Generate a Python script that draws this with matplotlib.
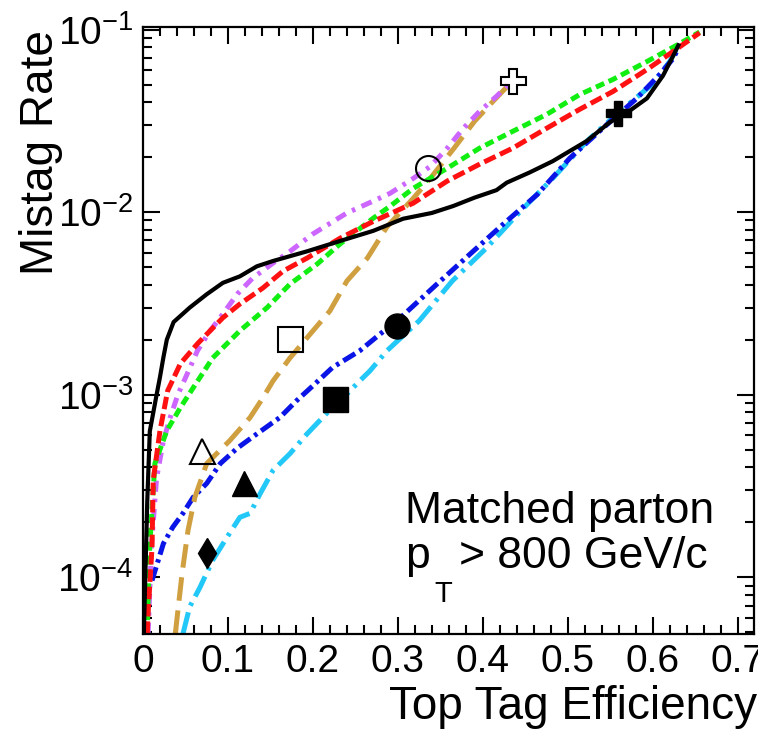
import matplotlib.pyplot as plt
from matplotlib.ticker import FixedLocator, MultipleLocator, LogLocator, NullFormatter

plt.rcParams['font.family'] = ['Liberation Sans', 'DejaVu Sans']
plt.rcParams['mathtext.fontset'] = 'custom'
plt.rcParams['mathtext.rm'] = 'Liberation Sans'
plt.rcParams['mathtext.it'] = 'Liberation Sans:italic'
plt.rcParams['mathtext.bf'] = 'Liberation Sans:bold'
plt.rcParams['lines.scale_dashes'] = False

# courbes (efficacite, taux de mistag)
black_x = [0.001, 0.002, 0.005, 0.008, 0.016, 0.020, 0.024, 0.028, 0.036, 0.055, 0.075, 0.094,
           0.114, 0.134, 0.153, 0.193, 0.232, 0.271, 0.306, 0.340, 0.365, 0.390, 0.416, 0.428,
           0.455, 0.482, 0.522, 0.549, 0.573, 0.593, 0.612, 0.624, 0.630]
black_y = [4.9e-5, 7.5e-5, 2.6e-4, 6.3e-4, 1.0e-3, 1.25e-3, 1.6e-3, 2.0e-3, 2.5e-3, 3.0e-3,
           3.55e-3, 4.1e-3, 4.45e-3, 5.05e-3, 5.4e-3, 6.1e-3, 6.95e-3, 7.9e-3, 9.2e-3, 9.9e-3,
           1.08e-2, 1.2e-2, 1.32e-2, 1.45e-2, 1.65e-2, 1.9e-2, 2.45e-2, 3.1e-2, 3.6e-2, 4.2e-2,
           5.6e-2, 7.2e-2, 8.2e-2]

red_x = [0.005, 0.006, 0.0106, 0.012, 0.020, 0.029, 0.044, 0.064, 0.094, 0.114, 0.141, 0.165,
         0.193, 0.232, 0.271, 0.318, 0.358, 0.396, 0.435, 0.475, 0.514, 0.553, 0.593, 0.624, 0.655]
red_y = [4.9e-5, 6.4e-5, 1.46e-4, 3.4e-4, 6.35e-4, 1.05e-3, 1.48e-3, 1.9e-3, 2.64e-3, 3.14e-3,
         3.84e-3, 4.76e-3, 5.6e-3, 7.2e-3, 8.9e-3, 1.12e-2, 1.48e-2, 1.83e-2, 2.24e-2, 2.88e-2,
         3.66e-2, 4.58e-2, 6.04e-2, 7.6e-2, 9.6e-2]

green_x = [0.003, 0.005, 0.008, 0.014, 0.028, 0.044, 0.059, 0.082, 0.114, 0.146, 0.173, 0.205,
           0.232, 0.271, 0.291, 0.318, 0.358, 0.396, 0.435, 0.475, 0.514, 0.553, 0.593, 0.632, 0.655]
green_y = [4.9e-5, 5.4e-5, 1.5e-4, 4.2e-4, 6.35e-4, 8.5e-4, 1.09e-3, 1.59e-3, 2.24e-3, 3.0e-3,
           4.04e-3, 5.2e-3, 6.7e-3, 9.27e-3, 1.08e-2, 1.35e-2, 1.74e-2, 2.24e-2, 2.77e-2, 3.43e-2,
           4.41e-2, 5.33e-2, 6.68e-2, 8.4e-2, 9.7e-2]

violet_x = [0.006, 0.010, 0.016, 0.024, 0.032, 0.041, 0.052, 0.064, 0.079, 0.094, 0.111, 0.129,
            0.153, 0.173, 0.200, 0.240, 0.271, 0.291, 0.318, 0.338, 0.358, 0.377, 0.396, 0.416, 0.434]
violet_y = [4.9e-5, 1.5e-4, 3.5e-4, 5.6e-4, 7.5e-4, 1.0e-3, 1.3e-3, 1.74e-3, 2.24e-3, 2.77e-3,
            3.56e-3, 4.35e-3, 5.26e-3, 6.1e-3, 7.6e-3, 9.9e-3, 1.15e-2, 1.27e-2, 1.53e-2, 1.78e-2,
            2.24e-2, 2.88e-2, 3.56e-2, 4.31e-2, 5.2e-2]

gold_x = [0.038, 0.046, 0.053, 0.061, 0.075, 0.102, 0.126, 0.141, 0.153, 0.173, 0.193, 0.220,
          0.240, 0.264, 0.287, 0.318, 0.338, 0.366, 0.390, 0.412, 0.429]
gold_y = [4.9e-5, 1.05e-4, 1.81e-4, 2.74e-4, 4.2e-4, 5.6e-4, 7.5e-4, 9.6e-4, 1.19e-3, 1.59e-3,
          2.05e-3, 2.88e-3, 4.2e-3, 5.6e-3, 8.3e-3, 1.19e-2, 1.53e-2, 2.24e-2, 3.14e-2, 4.05e-2, 4.9e-2]

blue_x = [0.0106, 0.024, 0.035, 0.047, 0.059, 0.075, 0.091, 0.111, 0.134, 0.161, 0.181, 0.200,
          0.223, 0.255, 0.279, 0.299, 0.346, 0.385, 0.424, 0.464, 0.502, 0.541, 0.581, 0.608,
          0.624, 0.632]
blue_y = [9.6e-5, 1.53e-4, 1.88e-4, 2.24e-4, 2.74e-4, 3.27e-4, 4.2e-4, 5.1e-4, 6.1e-4, 7.5e-4,
          9.3e-4, 1.12e-3, 1.41e-3, 1.74e-3, 2.15e-3, 2.54e-3, 4.04e-3, 5.9e-3, 8.6e-3, 1.25e-2,
          1.97e-2, 2.88e-2, 4.2e-2, 5.67e-2, 6.95e-2, 8.3e-2]

cyan_x = [0.047, 0.055, 0.067, 0.082, 0.099, 0.114, 0.126, 0.138, 0.153, 0.173, 0.193, 0.216,
          0.240, 0.255, 0.267, 0.287, 0.325, 0.364, 0.404, 0.444, 0.482, 0.522, 0.561, 0.599,
          0.620, 0.628]
cyan_y = [4.9e-5, 6.9e-5, 8.8e-5, 1.24e-4, 1.66e-4, 2.13e-4, 2.24e-4, 2.88e-4, 3.85e-4, 4.76e-4,
          6.1e-4, 7.9e-4, 1.01e-3, 1.19e-3, 1.35e-3, 1.74e-3, 2.54e-3, 4.2e-3, 6.35e-3, 1.01e-2,
          1.53e-2, 2.44e-2, 3.56e-2, 5.0e-2, 6.7e-2, 7.9e-2]

# points de fonctionnement (marqueurs)
open_pts = [('P', 0.435, 0.0526), ('o', 0.335, 0.0174), ('s', 0.173, 2.02e-3), ('^', 0.069, 4.94e-4)]
full_pts = [('P', 0.559, 0.0347), ('o', 0.299, 2.38e-3), ('s', 0.226, 9.5e-4), ('^', 0.119, 3.27e-4),
            ('d', 0.075, 1.35e-4)]

xticks = [0, 0.1, 0.2, 0.3, 0.4, 0.5, 0.6, 0.7]
xtick_labels = ['0', '0.1', '0.2', '0.3', '0.4', '0.5', '0.6', '0.7']
yticks = [1e-4, 1e-3, 1e-2, 1e-1]
ytick_labels = ['$10^{-4}$', '$10^{-3}$', '$10^{-2}$', '$10^{-1}$']

fig = plt.figure(figsize=(7.58, 7.32), dpi=100)
ax = fig.add_axes([143 / 758, 1 - 634 / 732, 611 / 758, 607 / 732])
ax.set_yscale('log')

ax.plot(cyan_x, cyan_y, color='#22c8f8', lw=3.6, dashes=(16, 5, 2.5, 5))
ax.plot(blue_x, blue_y, color='#0a14e6', lw=3.6, dashes=(10, 3.5, 2.5, 3.5))
ax.plot(gold_x, gold_y, color='#d0a040', lw=3.6, dashes=(17, 7))
ax.plot(violet_x, violet_y, color='#cc66ff', lw=3.6, dashes=(8, 5, 2.5, 5))
ax.plot(green_x, green_y, color='#11ee11', lw=3.6, dashes=(6.5, 3.5))
ax.plot(red_x, red_y, color='#ff1111', lw=3.6, dashes=(9, 3.5))
ax.plot(black_x, black_y, color='black', lw=3.0)

sizes = {'P': 18, 'o': 18, 's': 18, '^': 18, 'd': 15}
for m, x, y in open_pts:
    ax.plot(x, y, marker=m, ms=sizes[m], mfc='none', mec='black', mew=1.5, ls='none')
for m, x, y in full_pts:
    ax.plot(x, y, marker=m, ms=sizes[m], mfc='black', mec='black', mew=1.0, ls='none')

ax.set_xlim(0, 0.719)
ax.set_ylim(4.89e-5, 0.1033)

ax.xaxis.set_major_locator(FixedLocator(xticks))
ax.set_xticklabels(xtick_labels)
ax.xaxis.set_minor_locator(MultipleLocator(0.02))
ax.set_yticks(yticks)
ax.set_yticklabels(ytick_labels)
ax.yaxis.set_minor_locator(LogLocator(base=10, subs=range(2, 10)))
ax.yaxis.set_minor_formatter(NullFormatter())

ax.tick_params(which='both', direction='in', top=True, right=True, width=1.5)
ax.tick_params(which='major', length=12, labelsize=28, pad=7)
ax.tick_params(which='minor', length=6.5)
for s in ax.spines.values():
    s.set_linewidth(1.6)

# texte dans le cadre (positions en pixels de l'image de reference)
ax.text((405 - 143) / 611, (634 - 523) / 607, 'Matched parton', transform=ax.transAxes,
        fontsize=32, va='baseline')
ax.text((405 - 143) / 611, (634 - 568) / 607, 'p', transform=ax.transAxes,
        fontsize=32, va='baseline')
ax.text((434 - 143) / 611, (634 - 602) / 607, 'T', transform=ax.transAxes,
        fontsize=21, va='baseline')
ax.text((459 - 143) / 611, (634 - 568) / 607, '> 800 GeV/c', transform=ax.transAxes,
        fontsize=32, va='baseline')

fig.text(757 / 758, 1 - 719 / 732, 'Top Tag Efficiency', fontsize=33, ha='right', va='baseline')
fig.text(53 / 758, 1 - 30 / 732, 'Mistag Rate', fontsize=33, rotation=90,
         rotation_mode='anchor', ha='right', va='baseline')

fig.savefig('out.png', dpi=100)
